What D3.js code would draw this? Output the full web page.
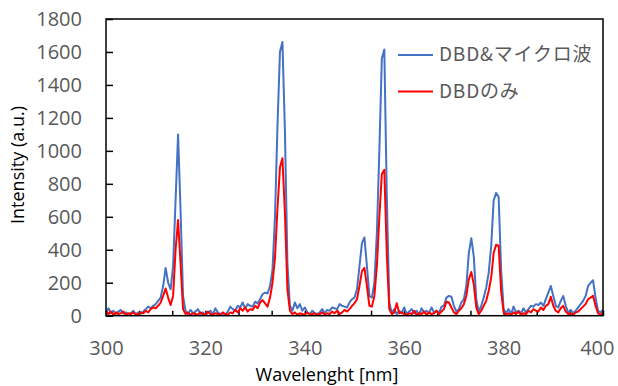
<!DOCTYPE html>
<html>
<head>
  <meta charset="utf-8">
  <title></title>
  <script src="https://d3js.org/d3.v7.min.js"></script>
</head>
<style media="screen">
  body {
    margin: 0;
    background: white;
  }
  .tick text {
    font-family: "Open Sans", "Noto Sans", sans-serif;
    font-size: 20px;
    fill: #595959;
  }
  .title {
    font-family: "Open Sans", "Noto Sans", sans-serif;
    font-size: 18px;
    fill: #000;
  }
  .legend text {
    font-family: "Noto Sans CJK JP", "Open Sans", sans-serif;
    font-size: 19px;
    letter-spacing: 0.8px;
    fill: #595959;
  }
</style>
<body>
  <svg id="chart" width="618" height="386"></svg>
  <script type="text/javascript">
    // spectrum sampled every 0.5 nm, from 300 to 400 nm
    var wlStart = 300, wlStep = 0.5

    // DBD & microwave
    var blue = [
      20, 45, 15, 30, 10, 25, 35, 12, 20, 8,
      15, 30, 10, 20, 12, 25, 40, 55, 45, 60,
      70, 90, 110, 180, 290, 200, 160, 300, 700, 1100,
      640, 120, 30, 10, 35, 15, 25, 40, 10, 20,
      5, 15, 30, 10, 45, 20, 10, 15, 5, 25,
      55, 40, 30, 60, 50, 80, 45, 70, 60, 55,
      85, 75, 100, 130, 140, 135, 180, 280, 600, 1150,
      1600, 1660, 1120, 320, 60, 30, 80, 45, 70, 30,
      50, 20, 10, 30, 15, 10, 20, 40, 15, 35,
      30, 50, 45, 40, 70, 60, 55, 50, 80, 100,
      110, 160, 300, 440, 475, 300, 120, 110, 200, 500,
      1000, 1560, 1615, 720, 80, 15, 40, 10, 30, 15,
      50, 10, 25, 40, 15, 30, 10, 45, 20, 30,
      15, 50, 20, 30, 15, 55, 60, 110, 120, 115,
      60, 25, 40, 80, 100, 180, 380, 470, 360, 100,
      25, 60, 110, 170, 260, 420, 700, 745, 720, 280,
      40, 15, 40, 10, 55, 20, 30, 15, 45, 20,
      40, 60, 55, 70, 65, 80, 60, 100, 140, 180,
      120, 60, 50, 90, 120, 60, 20, 35, 15, 30,
      50, 70, 90, 120, 180, 200, 215, 110, 30, 20,
      35
    ]

    // DBD only
    var red = [
      30, 10, 25, 5, 20, 10, 15, 25, 5, 15,
      10, 20, 5, 10, 20, 15, 30, 20, 40, 50,
      45, 60, 80, 120, 165, 110, 65, 120, 400, 580,
      320, 40, 10, 20, 5, 15, 10, 5, 20, 10,
      5, 25, 10, 5, 15, 10, 5, 20, 10, 5,
      20, 15, 35, 20, 45, 30, 50, 25, 40, 35,
      60, 45, 80, 95, 75, 55, 110, 200, 350, 650,
      900, 955, 620, 160, 30, 10, 20, 5, 15, 10,
      5, 20, 5, 10, 15, 5, 10, 20, 5, 15,
      10, 25, 15, 30, 10, 20, 35, 25, 40, 60,
      75, 100, 180, 270, 290, 180, 60, 55, 120, 300,
      600, 860, 885, 370, 40, 10, 20, 75, 15, 20,
      10, 5, 15, 10, 30, 5, 15, 10, 25, 5,
      20, 10, 15, 30, 10, 25, 40, 85, 80, 50,
      20, 10, 30, 45, 70, 120, 220, 265, 190, 50,
      10, 30, 60, 90, 150, 230, 380, 430, 425, 150,
      20, 5, 15, 5, 20, 10, 25, 5, 15, 10,
      30, 20, 40, 30, 25, 50, 35, 60, 70, 115,
      60, 30, 20, 45, 60, 25, 10, 15, 5, 20,
      25, 40, 55, 70, 100, 110, 120, 60, 15, 5,
      20
    ]

    var xTicks = [300, 320, 340, 360, 380, 400]
    var yTicks = [0, 200, 400, 600, 800, 1000, 1200, 1400, 1600, 1800]
    var seriesNames = ["DBD&マイクロ波", "DBDのみ"]
    var seriesColors = ["#4472C4", "#FF0000"]

    var svg = d3.select("#chart")
    var plotL = 106, plotR = 603, plotT = 19, plotB = 315.7

    var x = d3.scaleLinear().domain([300, 400]).range([plotL, plotR])
    var y = d3.scaleLinear().domain([0, 1800]).range([plotB, plotT])

    // minor marks: 15 even divisions along the x axis
    var xMarks = d3.range(0, 16).map(d => 300 + d * 100 / 15)

    svg.append("g")
      .attr("transform", "translate(0," + plotB + ")")
      .call(d3.axisTop(x).tickValues(xMarks).tickSize(5).tickFormat(""))
      .call(g => g.select(".domain").remove())
      .selectAll("line").attr("stroke", "#000").attr("stroke-width", 1.5)

    var xLab = svg.append("g")
      .attr("transform", "translate(0," + plotB + ")")
      .call(d3.axisBottom(x).tickValues(xTicks).tickSize(0).tickPadding(25).tickFormat(d3.format("d")))
      .call(g => g.select(".domain").remove())
    // last label is pushed inside the chart edge
    xLab.selectAll(".tick text").filter(d => d == 400)
      .attr("text-anchor", "end").attr("x", 614 - x(400))

    svg.append("g")
      .attr("transform", "translate(" + plotL + ",0)")
      .call(d3.axisRight(y).tickValues(yTicks).tickSize(7).tickFormat(""))
      .call(g => g.select(".domain").remove())
      .selectAll("line").attr("stroke", "#000").attr("stroke-width", 1.5)

    svg.append("g")
      .attr("transform", "translate(" + plotL + ",0)")
      .call(d3.axisLeft(y).tickValues(yTicks).tickSize(0).tickPadding(24).tickFormat(d3.format("d")))
      .call(g => g.select(".domain").remove())

    var line = d3.line()
      .x((d, i) => x(wlStart + i * wlStep))
      .y(d => y(d))

    ;[blue, red].forEach((s, k) => {
      svg.append("path")
        .datum(s)
        .attr("fill", "none")
        .attr("stroke", seriesColors[k])
        .attr("stroke-width", 2)
        .attr("stroke-linejoin", "round")
        .attr("d", line)
    })

    svg.append("rect")
      .attr("x", plotL)
      .attr("y", plotT)
      .attr("width", plotR - plotL)
      .attr("height", plotB - plotT)
      .attr("fill", "none")
      .attr("stroke", "#000")
      .attr("stroke-width", 1.5)

    var legend = svg.append("g").attr("class", "legend")
    seriesNames.forEach((name, k) => {
      var ly = 55 + k * 36.5
      legend.append("line")
        .attr("x1", 398).attr("x2", 433)
        .attr("y1", ly).attr("y2", ly)
        .attr("stroke", seriesColors[k])
        .attr("stroke-width", 2)
      legend.append("text")
        .attr("x", 439)
        .attr("y", ly + 6)
        .text(name)
    })

    svg.append("text")
      .attr("class", "title")
      .attr("x", 327)
      .attr("y", 381)
      .attr("text-anchor", "middle")
      .text("Wavelenght [nm]")

    svg.append("text")
      .attr("class", "title")
      .attr("transform", "translate(24,165) rotate(-90)")
      .attr("text-anchor", "middle")
      .text("Intensity (a.u.)")
  </script>
</body>
</html>
